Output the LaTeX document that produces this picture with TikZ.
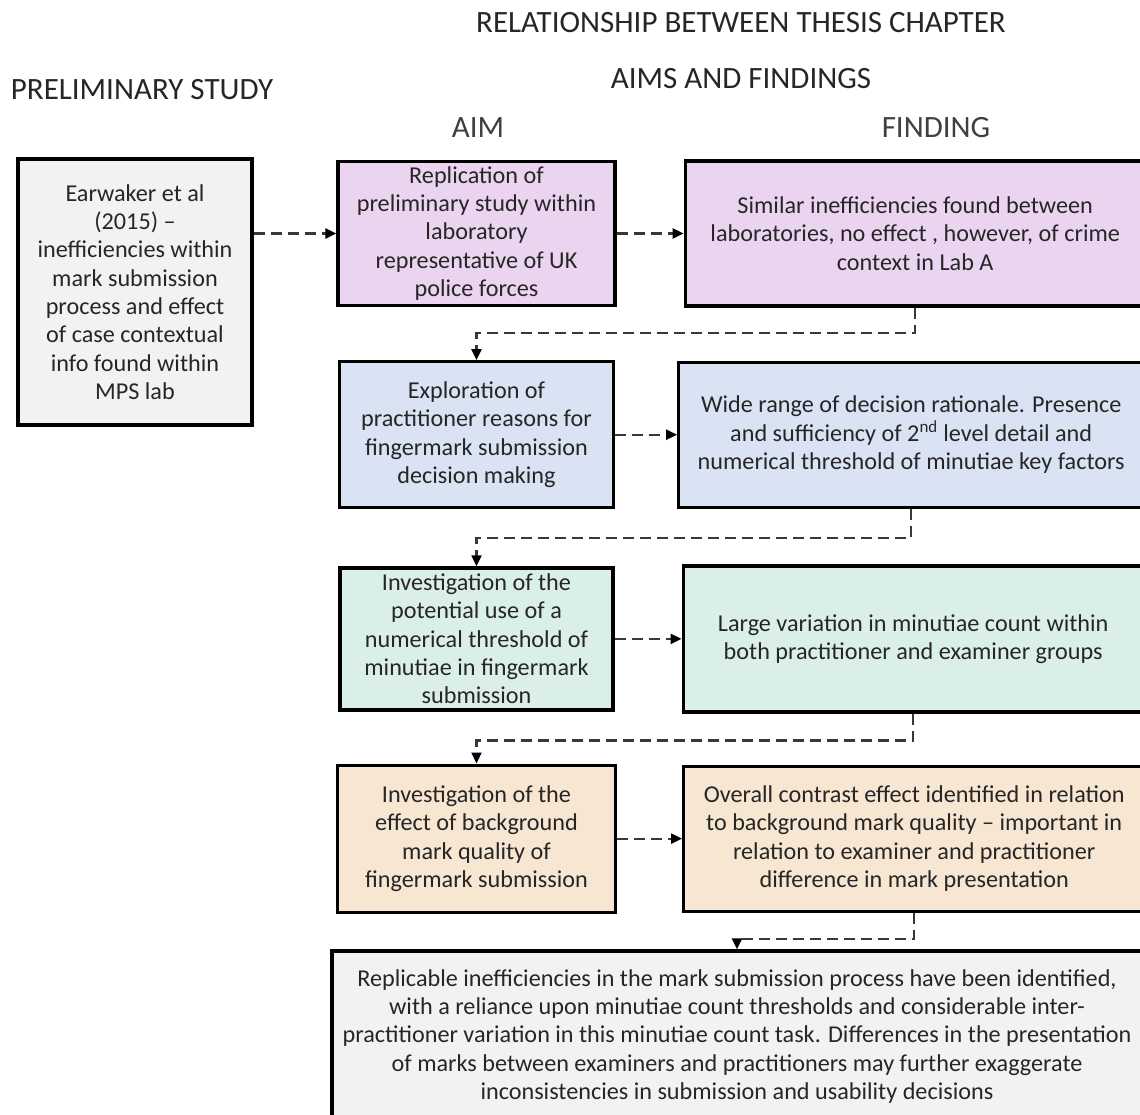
\documentclass[tikz,border=0pt]{standalone}
\usepackage{fontspec}
\setmainfont{Carlito}
\usetikzlibrary{arrows.meta, positioning}
\definecolor{txtgray}{HTML}{262626}
\definecolor{linegray}{HTML}{383838}
\definecolor{grayfill}{HTML}{F2F2F2}
\definecolor{pinkfill}{HTML}{EBD4F0}
\definecolor{bluefill}{HTML}{DAE3F3}
\definecolor{greenfill}{HTML}{DBEFE9}
\definecolor{tanfill}{HTML}{F7E6D1}
\tikzset{
    block/.style={rectangle, draw=black, line width=3.2pt, align=center, inner sep=0pt, text=txtgray, font=\fontsize{24.2}{28.3}\selectfont},
    block_gray/.style={block, fill=grayfill},
    block_pink/.style={block, fill=pinkfill},
    block_blue/.style={block, fill=bluefill},
    block_green/.style={block, fill=greenfill},
    block_tan/.style={block, fill=tanfill},
    heading/.style={inner sep=0pt, text=txtgray, font=\fontsize{31}{36}\selectfont},
    arrow/.style={-{Triangle[length=11pt, width=10pt, color=black]}, line width=2.2pt, draw=linegray, dash pattern=on 11pt off 6pt}
}

\begin{document}
\begin{tikzpicture}[x=1pt, y=-1pt]
            \useasboundingbox (0,0) rectangle (1140,1115);
            \clip (0,0) rectangle (1140,1115);

            \node (title1) [heading] at (741,23) {RELATIONSHIP BETWEEN THESIS CHAPTER};
            \node (title2) [heading] at (741,79) {AIMS AND FINDINGS};
            \node (prelimhead) [heading] at (142,90) {PRELIMINARY STUDY};
            \node (aimhead) [heading, text=black!75] at (478,128) {AIM};
            \node (findhead) [heading, text=black!75] at (936,128) {FINDING};

            \node (prelim) [block_gray, minimum width=234pt, minimum height=266pt] at (135,292) {Earwaker et al\\(2015) --\\inefficiencies within\\mark submission\\process and effect\\of case contextual\\info found within\\MPS lab};

            \node (a1) [block_pink, minimum width=277pt, minimum height=144pt] at (476.5,233.5) {Replication of\\preliminary study within\\laboratory\\representative of UK\\police forces};
            \node (f1) [block_pink, right=67pt of a1, minimum width=460pt, minimum height=145pt] {Similar inefficiencies found between\\laboratories, no effect , however, of crime\\context in Lab A};

            \node (a2) [block_blue, below=53pt of a1, minimum width=274pt, minimum height=146pt] {Exploration of\\practitioner reasons for\\fingermark submission\\decision making};
            \node (f2) [block_blue, right=62pt of a2, minimum width=465pt, minimum height=145pt] {Wide range of decision rationale. Presence\\and sufficiency of 2\textsuperscript{nd} level detail and\\numerical threshold of minutiae key factors};

            \node (a3) [block_green, below=57pt of a2, minimum width=273pt, minimum height=142pt] {Investigation of the\\potential use of a\\numerical threshold of\\minutiae in fingermark\\submission};
            \node (f3) [block_green, right=67pt of a3, minimum width=460pt, minimum height=146pt] {Large variation in minutiae count within\\both practitioner and examiner groups};

            \node (a4) [block_tan, below=52pt of a3, minimum width=278pt, minimum height=147pt] {Investigation of the\\effect of background\\mark quality of\\fingermark submission};
            \node (f4) [block_tan, right=65pt of a4, minimum width=461pt, minimum height=145pt] {Overall contrast effect identified in relation\\to background mark quality -- important in\\relation to examiner and practitioner\\difference in mark presentation};

            \node (summary) [block_gray, minimum width=810pt, minimum height=171pt] at (737,1036.5) {Replicable inefficiencies in the mark submission process have been identified,\\with a reliance upon minutiae count thresholds and considerable inter-\\practitioner variation in this minutiae count task. Differences in the presentation\\of marks between examiners and practitioners may further exaggerate\\inconsistencies in submission and usability decisions};

            \draw [arrow] (prelim.east |- a1) -- (a1);
            \draw [arrow] (a1) -- (f1);
            \draw [arrow] (a2) -- (f2);
            \draw [arrow] (a3) -- (f3);
            \draw [arrow] (a4) -- (f4);
            \draw [arrow] (f1.south) -- ++(0,25) -| (a2.north);
            \draw [arrow] (f2.south) -- ++(0,29) -| (a3.north);
            \draw [arrow] (f3.south) -- ++(0,27) -| (a4.north);
            \draw [arrow] (f4.south) -- ++(0,26) -| (summary.north);
        \end{tikzpicture}
\end{document}
